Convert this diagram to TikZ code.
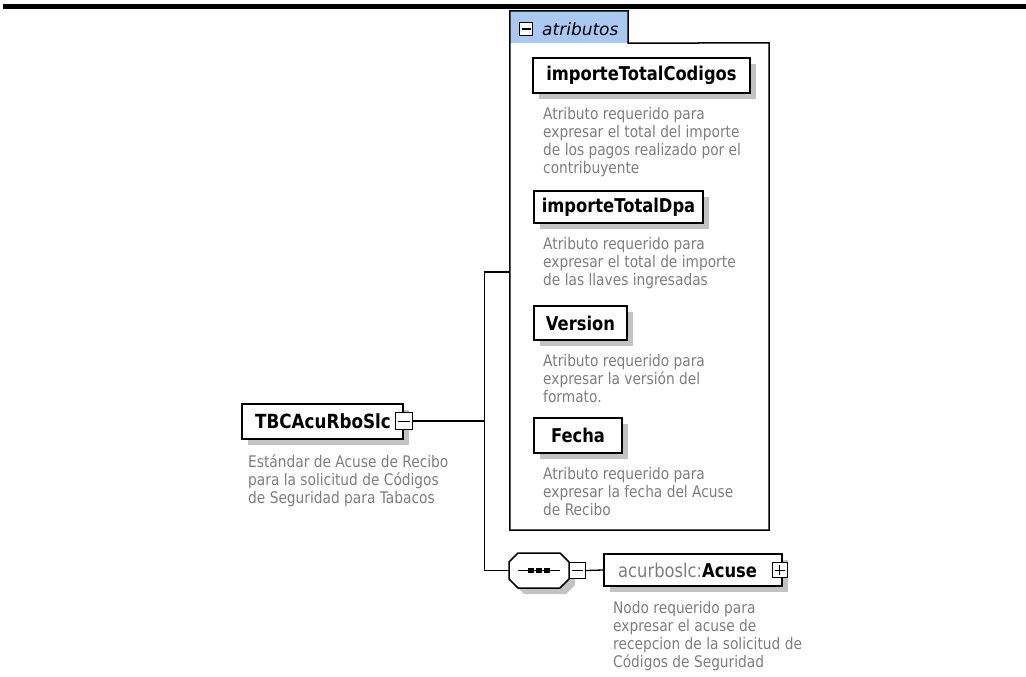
\documentclass[tikz,border=0pt]{standalone}
\usepackage{fontspec}
\setmainfont{DejaVu Sans}[FakeStretch=0.86]
\newfontfamily\tabfont{DejaVu Sans}
\usetikzlibrary{shadows}
\definecolor{desccol}{RGB}{125,125,125}
\definecolor{tabblue}{RGB}{170,201,242}
\definecolor{shad}{RGB}{195,195,195}
\begin{document}
\begin{tikzpicture}[x=1pt,y=-1pt,
  elbox/.style={draw=black, line width=1.6pt, fill=white, inner sep=0pt,
    font=\fontsize{19}{21}\selectfont\bfseries,
    drop shadow={shadow xshift=6pt, shadow yshift=-6pt, fill=shad, opacity=1}},
  sqbox/.style={draw=black, line width=1pt, fill=white, minimum width=#1, minimum height=#1, inner sep=0pt},
  sqbox/.default=16pt,
  desc/.style={anchor=north west, align=left, inner sep=0pt, text=desccol,
    font=\fontsize{16}{18}\selectfont},
  conn/.style={line width=1.3pt, draw=black}]
\useasboundingbox (0,0) rectangle (1026,677);
% top rule
\fill (3,4) rectangle (1026,9);

% attribute container and tab
\node[draw=none, minimum width=259pt, minimum height=487pt, inner sep=0pt] (attrs) at (639.5,286.5) {};
\node[fill=tabblue, minimum width=118pt, minimum height=32pt, inner sep=0pt] (tab) at (569,27) {};
\draw[line width=1.5pt] (attrs.south west) -- (tab.north west) -- (tab.north east) -- (tab.south east) -- (attrs.north east) -- (attrs.south east) -- cycle;
\node[sqbox=13pt] (tabm) at (526,29) {};
\draw[line width=1.2pt] ([xshift=2.5pt]tabm.west) -- ([xshift=-2.5pt]tabm.east);
\node[anchor=west, inner sep=0pt, font=\tabfont\fontsize{17}{19}\selectfont\itshape] (tabt) at (542,29) {atributos};

% attribute boxes
\node[elbox, minimum width=217pt, minimum height=35pt] (b1) at (641.5,75.5) {importeTotalCodigos};
\node[desc] (d1) at (543,107) {Atributo requerido para\\expresar el total del importe\\de los pagos realizado por el\\contribuyente};
\node[elbox, minimum width=169pt, minimum height=32pt] (b2) at (618.5,207) {importeTotalDpa};
\node[desc] (d2) at (543,237) {Atributo requerido para\\expresar el total de importe\\de las llaves ingresadas};
\node[elbox, minimum width=93pt, minimum height=34pt] (b3) at (580.5,323) {Version};
\node[desc] (d3) at (543,354) {Atributo requerido para\\expresar la versión del\\formato.};
\node[elbox, minimum width=88pt, minimum height=35pt] (b4) at (578,435.5) {Fecha};
\node[desc] (d4) at (543,467) {Atributo requerido para\\expresar la fecha del Acuse\\de Recibo};

% root element
\node[elbox, minimum width=161pt, minimum height=35pt] (tbc) at (322.5,421.5) {};
\node[anchor=west, inner sep=0pt, font=\fontsize{19.5}{21}\selectfont\bfseries] (tbct) at (255,421.5) {TBCAcuRboSlc};
\node[sqbox=17pt] (tbcm) at (403.5,421) {};
\draw[line width=1pt] ([xshift=3pt]tbcm.west) -- ([xshift=-3pt]tbcm.east);
\node[desc] (d0) at (248,454) {Estándar de Acuse de Recibo\\para la solicitud de Códigos\\de Seguridad para Tabacos};

% sequence compositor (octagon drawn directly)
\fill[shad] (524,559) -- (566,559) -- (575,568) -- (575,585) -- (566,594) -- (524,594) -- (515,585) -- (515,568) -- cycle;
\draw[line width=1.5pt, fill=white, line join=round] (518,553) -- (560,553) -- (569,562) -- (569,579) -- (560,588) -- (518,588) -- (509,579) -- (509,562) -- cycle;
\node[draw=none, minimum width=60pt, minimum height=35pt, inner sep=0pt] (seq) at (539,570.5) {};
\draw[line width=1.3pt] ([xshift=-21pt]seq.center) -- ([xshift=21pt]seq.center);
\foreach \dx in {-8,0,8} {\fill ([xshift=\dx pt-3pt, yshift=-2.5pt]seq.center) rectangle ([xshift=\dx pt+3pt, yshift=2.5pt]seq.center);}
\node[sqbox=16pt] (seqm) at (577.5,570.5) {};
\draw[line width=1pt] ([xshift=3pt]seqm.west) -- ([xshift=-3pt]seqm.east);

% Acuse element
\node[elbox, minimum width=178pt, minimum height=32pt] (acuse) at (693,570) {};
\node[anchor=west, inner sep=0pt, font=\fontsize{19}{21}\selectfont] (acuset) at (618,570) {\textcolor{desccol}{acurboslc:}\textbf{Acuse}};
\node[sqbox=15pt] (acusep) at (779.5,570) {};
\draw[line width=1pt] ([xshift=3pt]acusep.west) -- ([xshift=-3pt]acusep.east);
\draw[line width=1pt] ([yshift=3pt]acusep.south) -- ([yshift=-3pt]acusep.north);
\node[desc] (d5) at (613,601) {Nodo requerido para\\expresar el acuse de\\recepcion de la solicitud de\\Códigos de Seguridad};

% connectors
\coordinate (bus) at (484.5,421);
\coordinate (attrin) at (attrs.west |- 0,272);
\draw[conn] (tbcm.east) -- (bus);
\draw[conn] (bus) |- (attrin);
\draw[conn] (bus) |- (seq.west);
\draw[conn] (seqm.east) -- (acuse.west);
\end{tikzpicture}
\end{document}
